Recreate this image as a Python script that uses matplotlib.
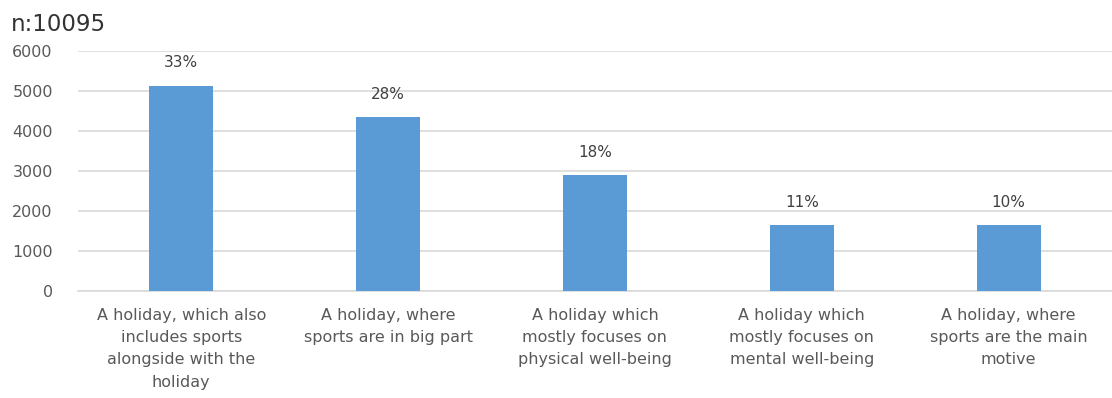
import matplotlib
matplotlib.use("Agg")
import matplotlib.pyplot as plt

categories = [
    "A holiday, which also\nincludes sports\nalongside with the\nholiday",
    "A holiday, where\nsports are in big part",
    "A holiday which\nmostly focuses on\nphysical well-being",
    "A holiday which\nmostly focuses on\nmental well-being",
    "A holiday, where\nsports are the main\nmotive",
]
counts = [5130, 4350, 2900, 1650, 1650]
shares = ["33%", "28%", "18%", "11%", "10%"]
yticks = [0, 1000, 2000, 3000, 4000, 5000, 6000]
sample_label = "n:10095"

text_color = "#595959"
bar_color = "#5b9bd5"
grid_color = "#d9d9d9"

plt.rcParams["font.family"] = ["DejaVu Sans"]

fig = plt.figure(figsize=(11.12, 3.98), dpi=100)
ax = fig.add_axes([0.070, 0.269, 0.930, 0.603])

x = range(len(categories))
bars = ax.bar(x, counts, width=0.31, color=bar_color, zorder=3)

for rect, lab in zip(bars, shares):
    ax.annotate(lab, (rect.get_x() + rect.get_width() / 2, rect.get_height()),
                xytext=(0, 11), textcoords="offset points",
                ha="center", va="bottom", fontsize=11, color="#404040")

ax.set_xlim(-0.5, len(categories) - 0.5)
ax.set_ylim(0, 6000)
ax.set_yticks(yticks)
ax.set_yticklabels([str(v) for v in yticks], fontsize=11.5, color=text_color)
ax.set_xticks(list(x))
ax.set_xticklabels(categories, fontsize=11.5, color=text_color, linespacing=1.62, va="top")
ax.tick_params(axis="both", length=0)
ax.tick_params(axis="x", pad=12)
ax.tick_params(axis="y", pad=18)

ax.yaxis.grid(True, color=grid_color, linewidth=1.2, zorder=0)
for s in ["top", "right", "left"]:
    ax.spines[s].set_visible(False)
ax.spines["bottom"].set_color(grid_color)
ax.spines["bottom"].set_linewidth(1.2)

fig.text(0.010, 0.922, sample_label, fontsize=16.5, color="#333333", ha="left", va="baseline")

fig.savefig("out.png", dpi=100)
